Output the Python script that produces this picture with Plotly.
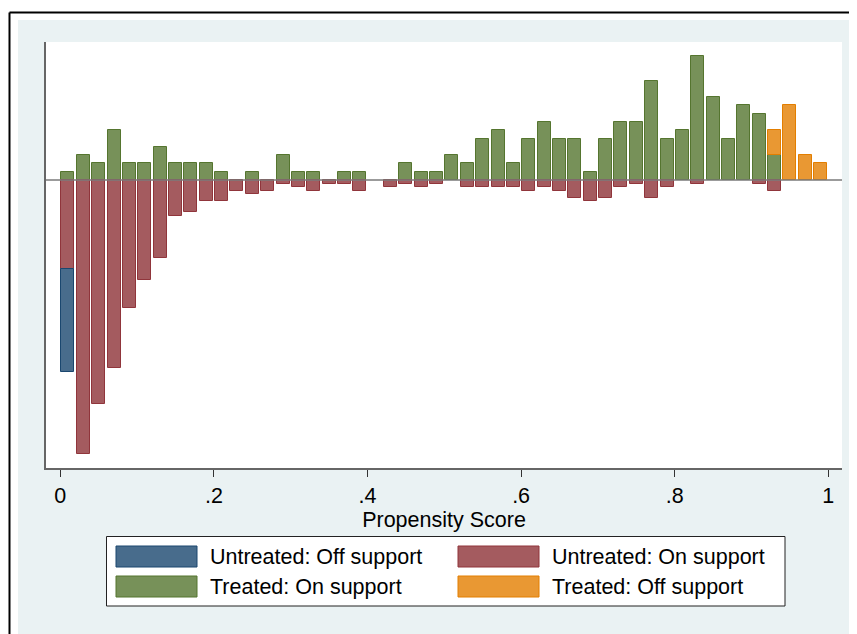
import plotly.graph_objects as go

# ---------------- data ----------------
bins = [0.01, 0.03, 0.05, 0.07, 0.09, 0.11, 0.13, 0.15, 0.17, 0.19,
        0.21, 0.23, 0.25, 0.27, 0.29, 0.31, 0.33, 0.35, 0.37, 0.39,
        0.41, 0.43, 0.45, 0.47, 0.49, 0.51, 0.53, 0.55, 0.57, 0.59,
        0.61, 0.63, 0.65, 0.67, 0.69, 0.71, 0.73, 0.75, 0.77, 0.79,
        0.81, 0.83, 0.85, 0.87, 0.89, 0.91, 0.93, 0.95, 0.97, 0.99]

treated_on = [1, 3, 2, 6, 2, 2, 4, 2, 2, 2,
              1, 0, 1, 0, 3, 1, 1, 0, 1, 1,
              0, 0, 2, 1, 1, 3, 2, 5, 6, 2,
              5, 7, 5, 5, 1, 5, 7, 7, 12, 5,
              6, 15, 10, 5, 9, 8, 3, 0, 0, 0]

treated_off = [0, 0, 0, 0, 0, 0, 0, 0, 0, 0,
               0, 0, 0, 0, 0, 0, 0, 0, 0, 0,
               0, 0, 0, 0, 0, 0, 0, 0, 0, 0,
               0, 0, 0, 0, 0, 0, 0, 0, 0, 0,
               0, 0, 0, 0, 0, 0, 3, 9, 3, 2]

untreated_on = [25, 77, 63, 53, 36, 28, 22, 10, 9, 6,
                6, 3, 4, 3, 1, 2, 3, 1, 1, 3,
                0, 2, 1, 2, 1, 0, 2, 2, 2, 2,
                3, 2, 3, 5, 6, 5, 2, 1, 5, 2,
                0, 1, 0, 0, 0, 1, 3, 0, 0, 0]

untreated_off = [29, 0, 0, 0, 0, 0, 0, 0, 0, 0,
                 0, 0, 0, 0, 0, 0, 0, 0, 0, 0,
                 0, 0, 0, 0, 0, 0, 0, 0, 0, 0,
                 0, 0, 0, 0, 0, 0, 0, 0, 0, 0,
                 0, 0, 0, 0, 0, 0, 0, 0, 0, 0]

tick_vals = [0, 0.2, 0.4, 0.6, 0.8, 1]
tick_text = ["0", ".2", ".4", ".6", ".8", "1"]
x_title = "Propensity Score"
legend_labels = ["Untreated: Off support", "Untreated: On support",
                 "Treated: On support", "Treated: Off support"]

# ---------------- styles ----------------
FILL = {"uoff": "#486C8C", "uon": "#A45B5F", "ton": "#779159", "toff": "#E99833"}
EDGE = {"uoff": "#1A476F", "uon": "#90353B", "ton": "#55752F", "toff": "#E37E00"}
FONT = "Liberation Sans, Arial, sans-serif"
BG = "#EAF2F3"
FS = 21.5

OFF = 8                      # page body margin
W, H = 857 - OFF, 634 - OFF
# plot area in page pixels, shifted into figure pixels
L, R, T, B = 46 - OFF, 842 - OFF, 42 - OFF, 468 - OFF


def px(x):
    """page pixel x -> paper coordinate"""
    return (x - OFF - L) / (R - L)


def py(y):
    """page pixel y -> paper coordinate"""
    return (B - (y - OFF)) / (B - T)


def nz(vals, sign=1):
    return [sign * v if v else None for v in vals]


bw = 0.0169
fig = go.Figure()
fig.add_trace(go.Bar(x=bins, y=nz(untreated_on, -1), yaxis="y2", width=bw,
                     marker=dict(color=FILL["uon"], line=dict(color=EDGE["uon"], width=1)),
                     name=legend_labels[1], showlegend=False))
fig.add_trace(go.Bar(x=bins, y=nz(untreated_off, -1), yaxis="y2", width=bw,
                     marker=dict(color=FILL["uoff"], line=dict(color=EDGE["uoff"], width=1)),
                     name=legend_labels[0], showlegend=False))
fig.add_trace(go.Bar(x=bins, y=nz(treated_on), yaxis="y", width=bw,
                     marker=dict(color=FILL["ton"], line=dict(color=EDGE["ton"], width=1)),
                     name=legend_labels[2], showlegend=False))
fig.add_trace(go.Bar(x=bins, y=nz(treated_off), yaxis="y", width=bw,
                     marker=dict(color=FILL["toff"], line=dict(color=EDGE["toff"], width=1)),
                     name=legend_labels[3], showlegend=False))

shapes = []
annotations = []
# outer white strips + black frame (outside the plot area)
shapes.append(dict(type="rect", xref="paper", yref="paper", x0=px(0), x1=px(900),
                   y0=py(20), y1=py(0), fillcolor="white", line=dict(width=0), layer="above"))
shapes.append(dict(type="rect", xref="paper", yref="paper", x0=px(0), x1=px(18),
                   y0=py(700), y1=py(0), fillcolor="white", line=dict(width=0), layer="above"))
shapes.append(dict(type="line", xref="paper", yref="paper", x0=px(9.5), x1=px(900),
                   y0=py(12.5), y1=py(12.5), line=dict(color="black", width=2), layer="above"))
shapes.append(dict(type="line", xref="paper", yref="paper", x0=px(9.5), x1=px(9.5),
                   y0=py(12.5), y1=py(700), line=dict(color="black", width=2), layer="above"))
# zero line
shapes.append(dict(type="line", xref="paper", yref="y", x0=0, x1=1, y0=0, y1=0,
                   line=dict(color="#7A7A7A", width=1.5), layer="above"))

# legend box
shapes.append(dict(type="rect", xref="paper", yref="paper", x0=px(106.5), x1=px(785),
                   y0=py(606), y1=py(536.5), fillcolor="white",
                   line=dict(color="#222222", width=1), layer="above"))
leg_keys = ["uoff", "uon", "ton", "toff"]
sw_x = [116, 458, 116, 458]
tx_x = [208, 550, 208, 550]
row_y = [546, 546, 576, 576]
for i, k in enumerate(leg_keys):
    shapes.append(dict(type="rect", xref="paper", yref="paper",
                       x0=px(sw_x[i]), x1=px(sw_x[i] + 81),
                       y0=py(row_y[i] + 21), y1=py(row_y[i]),
                       fillcolor=FILL[k], line=dict(color=EDGE[k], width=1), layer="above"))
    annotations.append(dict(xref="paper", yref="paper", x=px(tx_x[i]), y=py(row_y[i] + 10.5),
                            text=legend_labels[i], showarrow=False, xanchor="left",
                            yanchor="middle", font=dict(family=FONT, size=FS, color="black")))

fig.update_layout(
    width=W, height=H,
    margin=dict(l=L, r=W - R, t=T, b=H - B, pad=0),
    paper_bgcolor=BG, plot_bgcolor="white",
    barmode="relative", bargap=0,
    showlegend=False,
    font=dict(family=FONT, size=FS, color="black"),
    xaxis=dict(range=[-0.01862, 1.01784], tickvals=tick_vals, ticktext=tick_text,
               ticks="outside", ticklen=7, tickwidth=1, tickcolor="#333333",
               showline=True, linecolor="#666666", linewidth=1.5,
               showgrid=False, zeroline=False,
               tickfont=dict(family=FONT, size=FS, color="black"),
               title=dict(text=x_title, font=dict(family=FONT, size=FS, color="black"), standoff=0)),
    yaxis=dict(range=[-34.74, 16.65], showline=True, linecolor="#666666", linewidth=1.5,
               showticklabels=False, ticks="", showgrid=False, zeroline=False),
    yaxis2=dict(range=[-81.01, 38.82], overlaying="y", visible=False,
                showgrid=False, zeroline=False),
    shapes=shapes, annotations=annotations,
)

fig.write_html("out.html")
